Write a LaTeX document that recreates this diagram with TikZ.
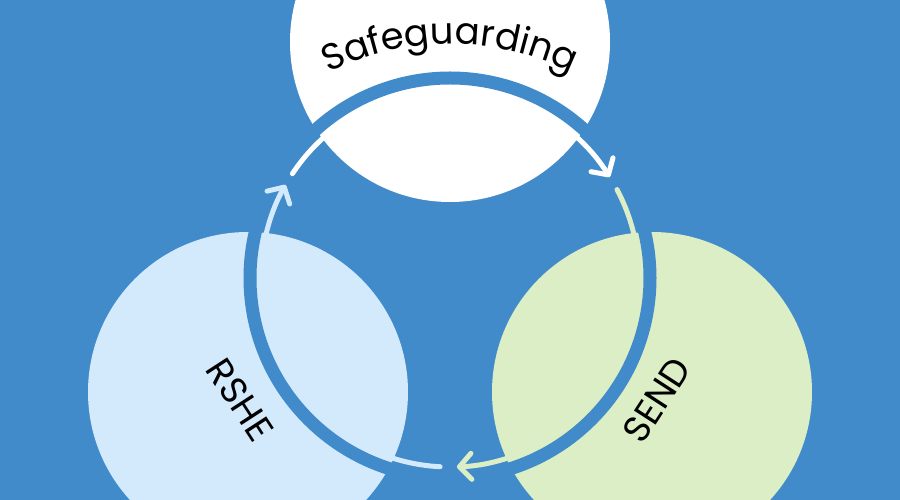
\documentclass[tikz,border=0pt]{standalone}
\usepackage{fontspec}
\setmainfont{Poppins}
\usepackage{xcolor}
\definecolor{sea-blue}{HTML}{418BCA}
\definecolor{pale-blue}{HTML}{D3E9FC}
\definecolor{pale-green}{HTML}{DCEEC5}
\usetikzlibrary{arrows.meta}
\usetikzlibrary{decorations.text}
\newcommand{\cyclefont}{\fontsize{37}{44}\selectfont}
\tikzset{disc/.style = {circle, minimum size=320pt, inner sep=0pt}}
\tikzset{ring/.style = {draw=sea-blue, line width=13pt}}
\tikzset{arr/.style = {line width=5pt, line cap=round, -{Straight Barb[round, length=12pt, width=26pt]}}}
\tikzset{tag/.style = {font=\cyclefont, text=black, inner sep=0pt}}

\begin{document}
\begin{tikzpicture}[x=1pt, y=1pt]

\useasboundingbox (0,0) rectangle (900,500);
\clip (0,0) rectangle (900,500);
\fill[sea-blue] (0,0) rectangle (900,500);

% the three areas
\node[disc, fill=white] (safe) at (450,458) {};
\node[disc, fill=pale-blue] (rshe) at (248,108) {};
\node[disc, fill=pale-green] (send) at (652,108) {};

% the cycle
\coordinate (hub) at (450,222);
\coordinate (bend) at (450,180);
\draw[ring] (hub) circle[radius=200];

\draw[arr, white] ([shift={(146.5:189)}]hub) arc[start angle=146.5, end angle=32.3, radius=189];
\draw[arr, pale-green] ([shift={(27.9:189)}]hub) arc[start angle=27.9, end angle=-87.9, radius=189];
\draw[arr, pale-blue] ([shift={(-93:189)}]hub) arc[start angle=-93, end angle=-209.5, radius=189];

% labels
\path[decorate, decoration={text along path, text={|\cyclefont|Safeguarding}, text align=center}]
  ([shift={(140:276)}]bend) arc[start angle=140, end angle=40, radius=276];
\node[tag, rotate=-57] (rshe-text) at (240,100) {RSHE};
\node[tag, rotate=57] (send-text) at (657,100) {SEND};

\end{tikzpicture}
\end{document}
